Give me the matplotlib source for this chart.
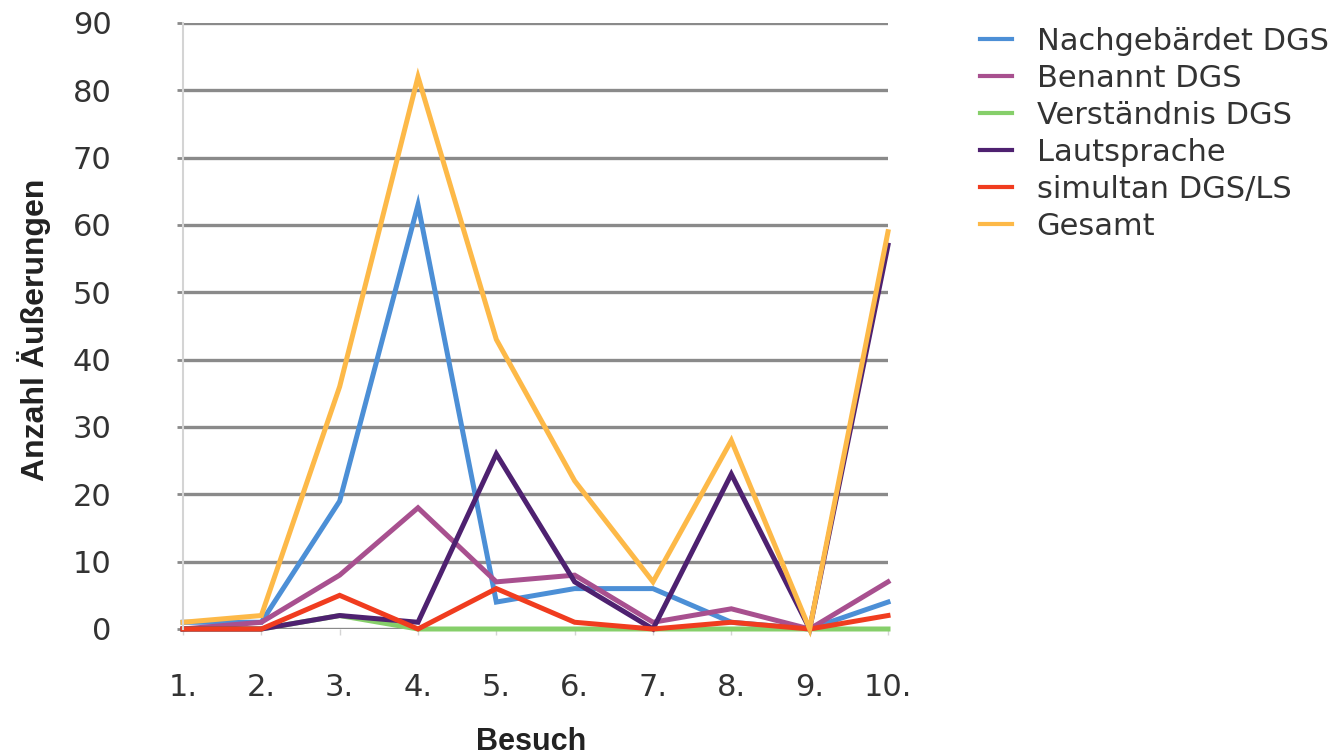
import matplotlib.pyplot as plt

# Daten
besuche = [1, 2, 3, 4, 5, 6, 7, 8, 9, 10]
besuch_labels = ["1.", "2.", "3.", "4.", "5.", "6.", "7.", "8.", "9.", "10."]

nachgebaerdet = [1, 1, 19, 63, 4, 6, 6, 1, 0, 4]
benannt = [0, 1, 8, 18, 7, 8, 1, 3, 0, 7]
verstaendnis = [0, 0, 2, 0, 0, 0, 0, 0, 0, 0]
lautsprache = [0, 0, 2, 1, 26, 7, 0, 23, 0, 57]
simultan = [0, 0, 5, 0, 6, 1, 0, 1, 0, 2]
gesamt = [1, 2, 36, 82, 43, 22, 7, 28, 0, 59]

serien = [
    ("Nachgebärdet DGS", nachgebaerdet, "#4C8FD6"),
    ("Benannt DGS", benannt, "#A8508F"),
    ("Verständnis DGS", verstaendnis, "#86CF6A"),
    ("Lautsprache", lautsprache, "#4E2170"),
    ("simultan DGS/LS", simultan, "#F03C1F"),
    ("Gesamt", gesamt, "#FDB948"),
]

# Grafik
fig = plt.figure(figsize=(13.38, 7.55), dpi=100)
ax = fig.add_axes([183 / 1338, 1 - 629 / 755, 705 / 1338, 606 / 755])

for name, werte, farbe in serien:
    ax.plot(besuche, werte, color=farbe, lw=3.6, label=name, clip_on=False,
            solid_joinstyle="miter")

ax.set_xlim(1, 10)
ax.set_ylim(0, 90)
ax.set_yticks(range(0, 91, 10))
ax.set_xticks(besuche)
ax.set_xticklabels(besuch_labels)

ax.grid(axis="y", color="#8a8a8a", lw=2.4)
ax.set_axisbelow(True)
for s in ["top", "right", "bottom"]:
    ax.spines[s].set_visible(False)
ax.spines["left"].set_color("#d4d4d4")
ax.spines["left"].set_linewidth(1.5)

ax.tick_params(axis="y", length=4.5, width=2, color="#8a8a8a", pad=47,
               labelsize=22, labelcolor="#333333")
ax.tick_params(axis="x", length=4.5, width=1, color="#d4d4d4", pad=27,
               labelsize=22, labelcolor="#333333")

fig.text(34 / 1338, 1 - 330 / 755, "Anzahl Äußerungen", rotation=90,
         ha="center", va="center", fontsize=23, fontweight="bold",
         family="Liberation Sans", color="#222222")
fig.text(531 / 1338, 1 - 742 / 755, "Besuch", ha="center", va="center",
         fontsize=22, fontweight="bold", family="Liberation Sans",
         color="#222222")

leg = fig.legend(loc="upper left", bbox_to_anchor=(980 / 1338, 1 - 27 / 755),
                 frameon=False, fontsize=22, handlelength=1.05,
                 handletextpad=0.8, labelspacing=0.26, borderpad=0,
                 borderaxespad=0, labelcolor="#333333")
for h in leg.get_lines():
    h.set_linewidth(3)

fig.savefig("out.png", dpi=100)
